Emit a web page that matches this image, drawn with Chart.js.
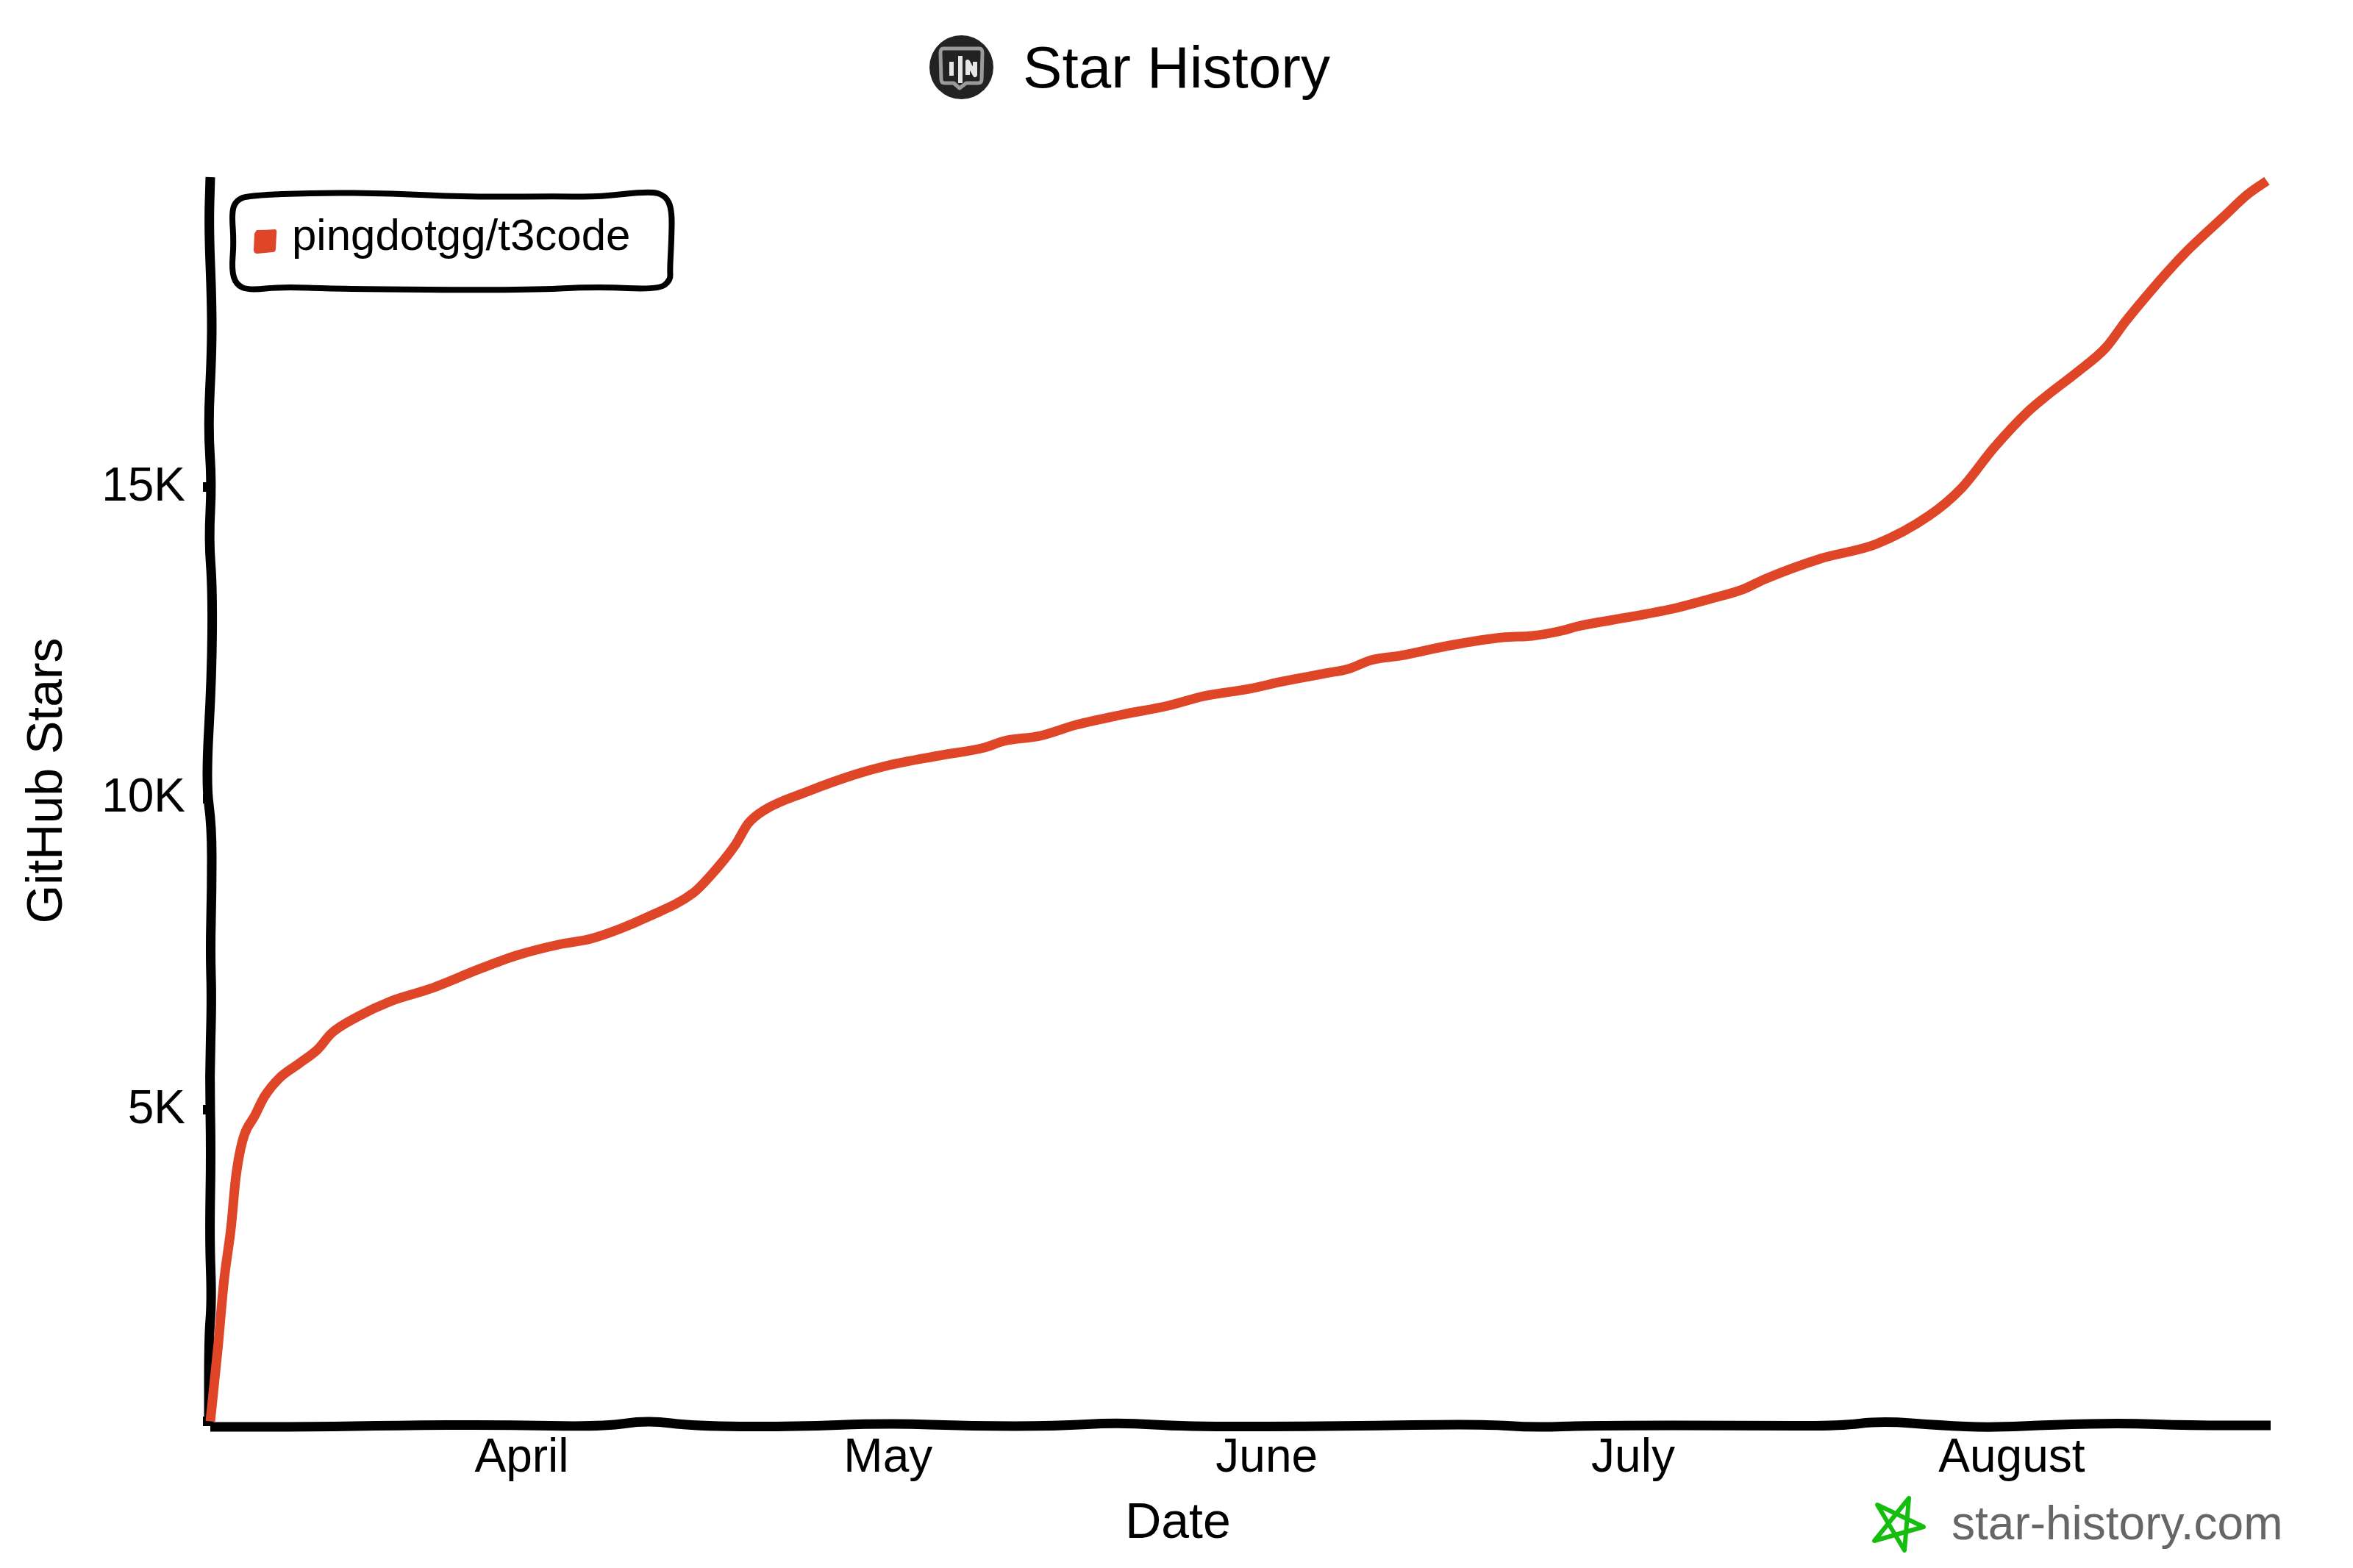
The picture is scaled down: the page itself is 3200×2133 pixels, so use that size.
<!DOCTYPE html>
<html>
<head>
<meta charset="utf-8">
<title>Star History</title>
<script src="https://cdn.jsdelivr.net/npm/chart.js@4"></script>
<style>
  html, body { margin: 0; padding: 0; background: #fff; }
  canvas { display: block; }
</style>
</head>
<body>
<canvas id="chart" width="3200" height="2133"></canvas>
<script>
// Values
const repoName = 'pingdotgg/t3code';
const daysFromApril1 = [-25.5, -24.87, -24.39, -23.79, -23.42, -22.88, -21.8, -21.08, -19.87, -18.25, -16.74, -15.54, -13.43, -10.72, -7.47, -3.43, -0.48, 3.01, 5.66, 8.13, 10.24, 14.03, 15.36, 17.46, 18.55, 19.87, 23.36, 27.4, 29.81, 34.14, 37.88, 39.5, 42.45, 45.4, 49.2, 52.93, 55.88, 59.61, 62.32, 65.82, 67.68, 69.55, 71.96, 75.99, 80.33, 82.74, 85.15, 86.47, 90.5, 94.54, 97.25, 99.96, 101.76, 106.34, 110.92, 115.19, 117.9, 120.55, 123.26, 124.89, 127.3, 129.7, 131.33, 133.74, 135.12, 136.69, 139.4, 141.27, 142.89];
const starCounts = [0, 1198, 2237, 3134, 3902, 4492, 4929, 5212, 5507, 5744, 5968, 6239, 6499, 6747, 6948, 7267, 7479, 7656, 7751, 7916, 8093, 8483, 8742, 9250, 9604, 9817, 10112, 10395, 10525, 10690, 10820, 10926, 11009, 11186, 11351, 11493, 11647, 11765, 11883, 12013, 12083, 12225, 12296, 12461, 12591, 12615, 12697, 12768, 12910, 13063, 13205, 13359, 13524, 13854, 14090, 14539, 14988, 15637, 16204, 16475, 16841, 17242, 17668, 18235, 18540, 18860, 19356, 19698, 19922];
const monthDays = [0, 30, 61, 91, 122];
const monthLabels = ['April', 'May', 'June', 'July', 'August'];
const starTicks = [0, 5000, 10000, 15000];

const FONT = '"Liberation Sans", Arial, sans-serif';
const RED = '#df4527';

// hand-drawn wobble of the axes: [fraction along axis, px offset]
const xAxisWobble = [[0, 2], [.05, 2], [.09, 0], [.14, -1], [.19, 2], [.212, -7], [.235, 1], [.28, 2], [.329, -3], [.37, 1], [.41, 1], [.441, -4], [.475, 2], [.55, 1], [.617, -2], [.642, 3], [.67, 0], [.75, 0], [.79, 1], [.811, -6], [.84, 0], [.864, 3], [.895, -1], [.929, -3], [.96, 0], [1, 0]];
const yAxisWobble = [[0, 0], [.04, -2], [.1, 2], [.14, 2], [.2, -3], [.245, 2], [.29, -2], [.33, 3], [.4, 2], [.485, -6], [.52, 2], [.57, 2], [.62, 0], [.66, 2], [.72, -1], [.78, 1], [.85, -1], [.9, 2], [.93, -2], [1, -2]];
const legendBoxPath = [[315, 287], [322, 272], [338, 266], [430, 262], [532, 263], [634, 268], [761, 267], [812, 268], [884, 260], [905, 266], [914, 285], [913, 330], [911, 367], [912, 381], [896, 394], [812, 390], [710, 395], [455, 393], [384, 390], [338, 395], [321, 387], [315, 367], [318, 330]];

function smoothPath(ctx, pts, closed) {
  ctx.beginPath();
  if (closed) {
    const last = pts[pts.length - 1];
    ctx.moveTo((last[0] + pts[0][0]) / 2, (last[1] + pts[0][1]) / 2);
  } else {
    ctx.moveTo(pts[0][0], pts[0][1]);
  }
  for (let i = 0; i < pts.length - 1; i++) {
    ctx.quadraticCurveTo(pts[i][0], pts[i][1], (pts[i][0] + pts[i + 1][0]) / 2, (pts[i][1] + pts[i + 1][1]) / 2);
  }
  if (closed) {
    const last = pts[pts.length - 1];
    ctx.quadraticCurveTo(last[0], last[1], (last[0] + pts[0][0]) / 2, (last[1] + pts[0][1]) / 2);
    ctx.closePath();
  } else {
    ctx.lineTo(pts[pts.length - 1][0], pts[pts.length - 1][1]);
  }
}

// wobbly axes go under the line
const sketchAxes = {
  id: 'sketchAxes',
  beforeDatasetsDraw(chart) {
    const { ctx, chartArea: a } = chart;
    ctx.save();
    ctx.strokeStyle = '#000';
    ctx.lineWidth = 13;
    ctx.lineCap = 'butt';
    smoothPath(ctx, yAxisWobble.map(([f, o]) => [a.left + o, a.top + f * (a.bottom - a.top)]));
    ctx.stroke();
    smoothPath(ctx, xAxisWobble.map(([f, o]) => [a.left + f * (a.right - a.left), a.bottom + o]));
    ctx.stroke();
    ctx.restore();
  }
};

// legend box, axis titles, logo and watermark
const decorations = {
  id: 'decorations',
  afterDraw(chart) {
    const ctx = chart.ctx;
    ctx.save();

    // legend
    ctx.strokeStyle = '#000';
    ctx.lineWidth = 8;
    ctx.lineJoin = 'round';
    smoothPath(ctx, legendBoxPath, true);
    ctx.stroke();
    ctx.fillStyle = RED;
    ctx.beginPath();
    ctx.moveTo(349, 313);
    ctx.quadraticCurveTo(362, 313, 374, 312);
    ctx.quadraticCurveTo(377, 312, 376, 318);
    ctx.lineTo(375, 338);
    ctx.quadraticCurveTo(375, 343, 371, 343);
    ctx.lineTo(350, 345);
    ctx.quadraticCurveTo(345, 345, 345, 340);
    ctx.lineTo(346, 318);
    ctx.closePath();
    ctx.fill();
    ctx.fillStyle = '#000';
    ctx.font = '60px ' + FONT;
    ctx.textAlign = 'left';
    ctx.textBaseline = 'alphabetic';
    ctx.fillText(repoName, 397, 340);

    // axis titles
    ctx.font = '68px ' + FONT;
    ctx.textAlign = 'center';
    ctx.fillText('Date', 1602, 2092);
    ctx.save();
    ctx.translate(84, 1062);
    ctx.rotate(-Math.PI / 2);
    ctx.fillText('GitHub Stars', 0, 0);
    ctx.restore();

    // logo next to the title
    ctx.fillStyle = '#222';
    ctx.beginPath();
    ctx.ellipse(1307.5, 91.5, 43.5, 43.5, 0, 0, Math.PI * 2);
    ctx.fill();
    ctx.strokeStyle = '#9a9a9a';
    ctx.lineWidth = 5;
    ctx.beginPath();
    ctx.moveTo(1283, 66);
    ctx.lineTo(1332, 66);
    ctx.quadraticCurveTo(1336, 66, 1336, 72);
    ctx.lineTo(1335, 108);
    ctx.quadraticCurveTo(1335, 113, 1330, 113);
    ctx.lineTo(1314, 113);
    ctx.lineTo(1305, 120);
    ctx.lineTo(1297, 113);
    ctx.lineTo(1285, 113);
    ctx.quadraticCurveTo(1280, 113, 1280, 108);
    ctx.lineTo(1279, 72);
    ctx.quadraticCurveTo(1279, 66, 1283, 66);
    ctx.closePath();
    ctx.stroke();
    ctx.strokeStyle = '#e6e6e6';
    ctx.lineWidth = 6;
    ctx.beginPath();
    ctx.moveTo(1294, 84);
    ctx.lineTo(1294, 103);
    ctx.moveTo(1306, 76);
    ctx.lineTo(1306, 113);
    ctx.moveTo(1316, 102);
    ctx.lineTo(1316, 84);
    ctx.lineTo(1326, 102);
    ctx.lineTo(1326, 84);
    ctx.stroke();

    // watermark
    ctx.strokeStyle = '#14bd0e';
    ctx.lineWidth = 6;
    ctx.lineJoin = 'round';
    ctx.beginPath();
    ctx.moveTo(2596, 2038);
    ctx.lineTo(2549, 2096);
    ctx.lineTo(2616, 2077);
    ctx.lineTo(2553, 2047);
    ctx.lineTo(2590, 2109);
    ctx.closePath();
    ctx.stroke();
    ctx.fillStyle = '#666';
    ctx.font = '64px ' + FONT;
    ctx.textAlign = 'left';
    ctx.fillText('star-history.com', 2654, 2094);
    ctx.restore();
  }
};

new Chart(document.getElementById('chart').getContext('2d'), {
  type: 'line',
  data: {
    datasets: [{
      label: repoName,
      data: daysFromApril1.map((d, i) => ({ x: d, y: starCounts[i] })),
      borderColor: RED,
      backgroundColor: RED,
      borderWidth: 13,
      pointRadius: 0,
      cubicInterpolationMode: 'monotone',
      clip: false
    }]
  },
  options: {
    responsive: false,
    devicePixelRatio: 1,
    animation: false,
    // same padding both sides keeps the title centred on the page
    layout: { padding: { top: 0, left: 112, right: 112, bottom: 0 } },
    plugins: {
      legend: { display: false },
      tooltip: { enabled: false },
      title: {
        display: true,
        text: 'Star History',
        color: '#000',
        font: { family: FONT, size: 80, weight: 'normal', lineHeight: 1.2 },
        padding: { top: 49, bottom: 96 }
      }
    },
    scales: {
      x: {
        type: 'linear',
        min: -25.5,
        max: 143.2,
        afterFit: s => { s.height = 194; },
        afterBuildTicks: s => { s.ticks = monthDays.map(value => ({ value })); },
        grid: { display: false },
        border: { display: false },
        ticks: {
          autoSkip: false,
          maxRotation: 0,
          padding: -1,
          color: '#000',
          font: { family: FONT, size: 64 },
          callback: v => monthLabels[monthDays.indexOf(v)]
        }
      },
      y: {
        min: -65,
        max: 19981,
        afterFit: s => { s.width = 174; },
        afterBuildTicks: s => { s.ticks = starTicks.map(value => ({ value })); },
        grid: { drawOnChartArea: false, drawTicks: true, tickLength: 10, tickWidth: 13, tickColor: '#000' },
        border: { display: false },
        ticks: {
          padding: 24,
          color: '#000',
          font: { family: FONT, size: 64 },
          callback: v => (v === 0 ? '' : (v / 1000) + 'K')
        }
      }
    }
  },
  plugins: [sketchAxes, decorations]
});
</script>
</body>
</html>
